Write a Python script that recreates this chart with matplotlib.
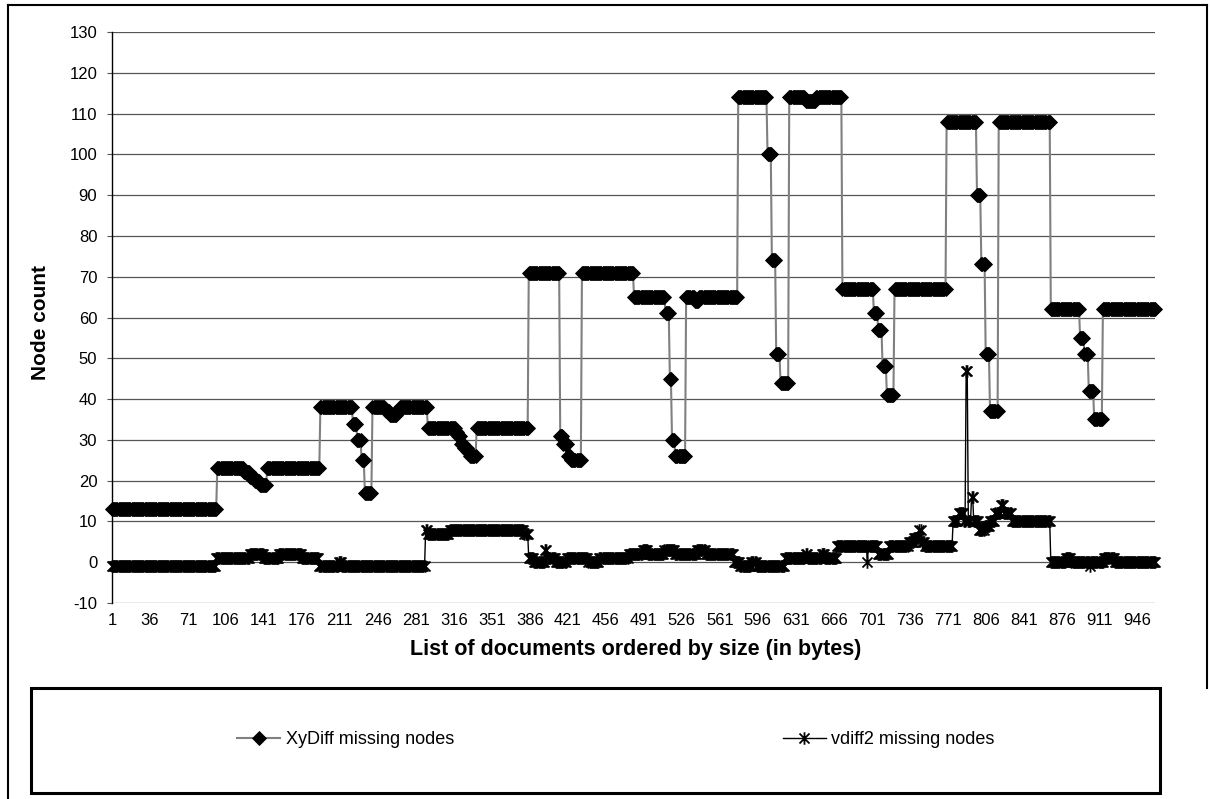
import numpy as np
import matplotlib
matplotlib.use("Agg")
import matplotlib.pyplot as plt
from matplotlib.path import Path
from matplotlib.lines import Line2D
from matplotlib.patches import Rectangle

plt.rcParams["font.family"] = ["Liberation Sans", "DejaVu Sans"]
plt.rcParams["axes.unicode_minus"] = False

# documents on the category axis, 1..N
N_DOCS = 962

# step series: first document of each run, value of the run
XY_START = [1, 98, 123, 128, 133, 137, 144, 193, 223, 227, 231, 234, 241, 253, 257,
            264, 266, 292, 318, 320, 323, 325, 329, 331, 337, 385, 414, 417, 421,
            424, 434, 482, 511, 515, 517, 520, 530, 538, 542, 578, 605, 609, 613,
            617, 625, 640, 650, 674, 703, 707, 711, 715, 722, 770, 798, 802, 806,
            810, 818, 866, 893, 897, 901, 906, 914]
XY_VALUE = [13, 23, 22, 21, 20, 19, 23, 38, 34, 30, 25, 17, 38, 37, 36,
            37, 38, 33, 32, 31, 29, 28, 27, 26, 33, 71, 31, 29, 26,
            25, 71, 65, 61, 45, 30, 26, 65, 64, 65, 114, 100, 74, 51,
            44, 114, 113, 114, 67, 61, 57, 48, 41, 67, 108, 90, 73, 51,
            37, 108, 62, 55, 51, 42, 35, 62]

VD_START = [1, 97, 128, 141, 155, 176, 192, 210, 213, 290, 292, 312, 381, 385, 390,
            400, 402, 410, 420, 440, 450, 477, 490, 495, 510, 520, 540, 548, 574,
            580, 590, 595, 621, 640, 642, 655, 658, 669, 697, 698, 707, 717, 735,
            740, 745, 747, 750, 776, 781, 786, 788, 790, 793, 795, 800, 805, 810,
            815, 820, 823, 830, 866, 880, 885, 902, 903, 915, 925]
VD_VALUE = [-1, 1, 2, 1, 2, 1, -1, 0, -1, 8, 7, 8, 7, 1, 0,
            3, 1, 0, 1, 0, 1, 2, 3, 2, 3, 2, 3, 2, 0,
            -1, 0, -1, 1, 2, 1, 2, 1, 4, 0, 4, 2, 4, 5,
            6, 8, 5, 4, 10, 12, 10, 47, 10, 16, 10, 8, 9, 10,
            12, 14, 12, 10, 0, 1, 0, -1, 0, 1, 0]

X_TICKS = [1, 36, 71, 106, 141, 176, 211, 246, 281, 316, 351, 386, 421, 456,
           491, 526, 561, 596, 631, 666, 701, 736, 771, 806, 841, 876, 911, 946]
Y_TICKS = [-10, 0, 10, 20, 30, 40, 50, 60, 70, 80, 90, 100, 110, 120, 130]

LABEL_XY = "XyDiff missing nodes"
LABEL_VD = "vdiff2 missing nodes"


def expand(starts, values, n):
    out = np.empty(n)
    ends = starts[1:] + [n + 1]
    for s, e, v in zip(starts, ends, values):
        out[s - 1:e - 1] = v
    return out


# Excel style "star" marker: x plus a vertical bar
STAR = Path([(0, -1), (0, 1), (-0.8, -0.8), (0.8, 0.8), (-0.8, 0.8), (0.8, -0.8)],
            [Path.MOVETO, Path.LINETO, Path.MOVETO, Path.LINETO, Path.MOVETO, Path.LINETO])

W, H = 1210, 799
fig = plt.figure(figsize=(W / 100, H / 100), dpi=100)
ax = fig.add_axes([112 / W, 1 - 603 / H, (1155 - 112) / W, (603 - 32) / H])

docs = np.arange(1, N_DOCS + 1)
xy = expand(XY_START, XY_VALUE, N_DOCS)
vd = expand(VD_START, VD_VALUE, N_DOCS)

xy_style = dict(color="#808080", lw=1.5, marker="D", ms=7, mfc="black", mec="black", mew=0.6)
vd_style = dict(color="black", lw=1.0, marker=STAR, ms=9, mfc="none", mec="black", mew=1.3)

ax.plot(docs, xy, zorder=3, clip_on=False, **xy_style)
ax.plot(docs, vd, zorder=4, clip_on=False, **vd_style)

ax.set_xlim(1, N_DOCS)
ax.set_ylim(-10, 130)
ax.set_yticks(Y_TICKS)
ax.set_xticks(X_TICKS)
ax.set_xticklabels([str(t) for t in X_TICKS])
ax.yaxis.grid(True, color="#555555", lw=0.9)
ax.set_axisbelow(True)
for side in ("top", "right", "bottom"):
    ax.spines[side].set_visible(False)
ax.spines["left"].set_color("black")
ax.spines["left"].set_linewidth(1.0)
ax.tick_params(axis="y", length=3.6, width=0.8, color="#555555", pad=7, labelsize=12)
ax.tick_params(axis="x", length=0, pad=7, labelsize=12)

fig.text(636 / W, 1 - 650 / H, "List of documents ordered by size (in bytes)",
         ha="center", va="center", fontsize=15.5, fontweight="bold")
fig.text(40 / W, 1 - 322 / H, "Node count", ha="center", va="center",
         rotation=90, fontsize=15, fontweight="bold")

# chart area border (top, left, right) and legend box
tf = fig.transFigure
fig.add_artist(Line2D([8 / W, 8 / W], [1 - 5 / H, 0], color="black", lw=1.5, transform=tf))
fig.add_artist(Line2D([8 / W, 1207 / W], [1 - 5 / H, 1 - 5 / H], color="black", lw=1.5, transform=tf))
fig.add_artist(Line2D([1207 / W, 1207 / W], [1 - 5 / H, 1 - 688 / H], color="black", lw=1.5, transform=tf))
fig.add_artist(Rectangle((31 / W, 1 - 793 / H), (1160 - 31) / W, (793 - 688) / H,
                         fill=False, ec="black", lw=2.2, transform=tf))

handles = [Line2D([], [], **xy_style), Line2D([], [], **vd_style)]
fig.legend(handles, [LABEL_XY, LABEL_VD], loc="center", bbox_to_anchor=(616 / W, 1 - 740 / H),
           ncol=2, frameon=False, fontsize=13, handlelength=2.4, handletextpad=0.3,
           columnspacing=18.2)

fig.savefig("out.png", dpi=100)
